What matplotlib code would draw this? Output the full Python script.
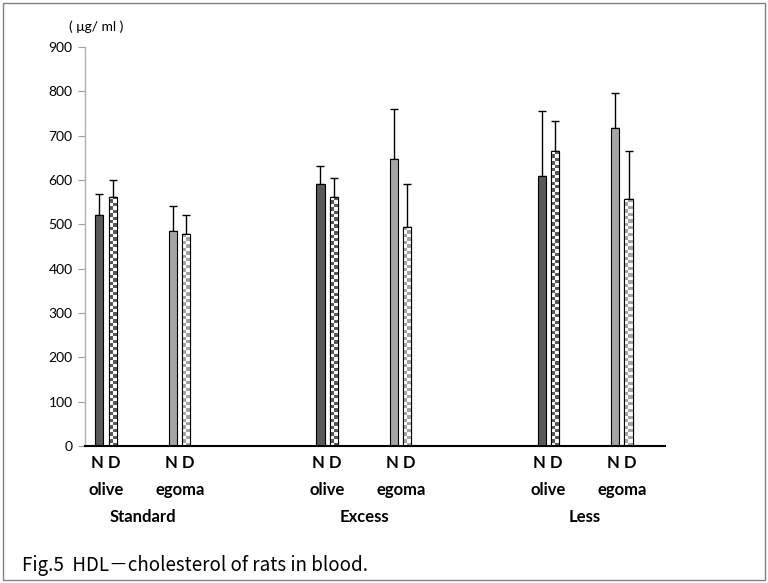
import numpy as np
import matplotlib
matplotlib.use("Agg")
import matplotlib.pyplot as plt
from matplotlib.colors import ListedColormap
from matplotlib.patches import Rectangle

# HDL-cholesterol (ug/ml), mean and SD for each diet / oil / group
diets = ["Standard", "Excess", "Less"]
oils = ["olive", "egoma"]
n_mean = [522, 484, 592, 647, 610, 717]
n_sd = [46, 57, 40, 113, 146, 79]
d_mean = [562, 478, 561, 493, 665, 557]
d_sd = [38, 43, 43, 97, 69, 109]
yticks = [0, 100, 200, 300, 400, 500, 600, 700, 800, 900]

plt.rcParams['font.family'] = ['Lato', 'DejaVu Sans']

fig = plt.figure(figsize=(7.68, 5.83), dpi=100)
ax = fig.add_axes([85/768, 137/583, 580/768, 399/583])

# olive/egoma slots, with an empty slot between diets
pos = np.array([0, 1, 3, 4, 6, 7], dtype=float)
off = 0.09
w = 0.11
dark = '#595959'
light = '#a5a5a5'
colors = [dark, light] * 3

ax.bar(pos - off, n_mean, w, color=colors, edgecolor='black', linewidth=0.8, zorder=2)
ax.errorbar(pos - off, n_mean, yerr=[np.zeros(6), n_sd], fmt='none',
            ecolor='black', elinewidth=1, capsize=3, capthick=1, zorder=1)

dbars = ax.bar(pos + off, d_mean, w, color='white', edgecolor='black', linewidth=0.8, zorder=2)
ax.errorbar(pos + off, d_mean, yerr=[np.zeros(6), d_sd], fmt='none',
            ecolor='black', elinewidth=1, capsize=3, capthick=1, zorder=1)

# checkerboard fill for the D bars
for bar, val, col in zip(dbars, d_mean, colors):
    rows = int(round(val * 0.4433 / 3.4))
    board = (np.indices((rows, 2)).sum(axis=0) % 2)
    x0 = bar.get_x()
    im = ax.imshow(board, extent=[x0, x0 + bar.get_width(), 0, val],
                   cmap=ListedColormap(['white', col]), interpolation='nearest',
                   aspect='auto', origin='lower', zorder=2.5)
    im.set_clip_path(bar)
    ax.add_patch(Rectangle((x0, 0), bar.get_width(), val, fill=False,
                           edgecolor='black', linewidth=0.8, zorder=3))

ax.set_xlim(-0.285, 7.585)
ax.set_ylim(0, 900)
ax.set_aspect('auto')
ax.set_yticks(yticks)
ax.set_yticklabels([str(t) for t in yticks], fontsize=10)
ax.set_xticks([])
ax.tick_params(axis='y', length=5, width=0.8, color='#a0a0a0', pad=4)

for s in ['top', 'right']:
    ax.spines[s].set_visible(False)
ax.spines['left'].set_color('#b0b0b0')
ax.spines['left'].set_linewidth(1)
ax.spines['bottom'].set_color('black')
ax.spines['bottom'].set_linewidth(1.5)

# group labels under the axis
trans = ax.get_xaxis_transform()
for i, p in enumerate(pos):
    ax.text(p, -0.043, "N D", transform=trans, ha='center', va='center',
            fontsize=12, fontweight='bold')
    ax.text(p, -0.11, oils[i % 2], transform=trans, ha='center', va='center',
            fontsize=12, fontweight='bold')
for j, name in enumerate(diets):
    ax.text(pos[2*j:2*j+2].mean(), -0.178, name, transform=trans,
            ha='center', va='center', fontsize=12, fontweight='bold')

fig.text(96/768, 1 - 27/583, "( μg/ ml )", ha='center', va='center', fontsize=10)

fig.text(22/768, 1 - 565/583, "Fig.5  HDL－cholesterol of rats in blood.",
         ha='left', va='center', fontsize=13.5,
         family=['Noto Sans CJK JP', 'DejaVu Sans'])

fig.patches.append(Rectangle((3/768, 3/583), 762/768, 577/583, fill=False,
                             edgecolor='#808080', linewidth=1,
                             transform=fig.transFigure, figure=fig))

fig.savefig("out.png", dpi=100)
